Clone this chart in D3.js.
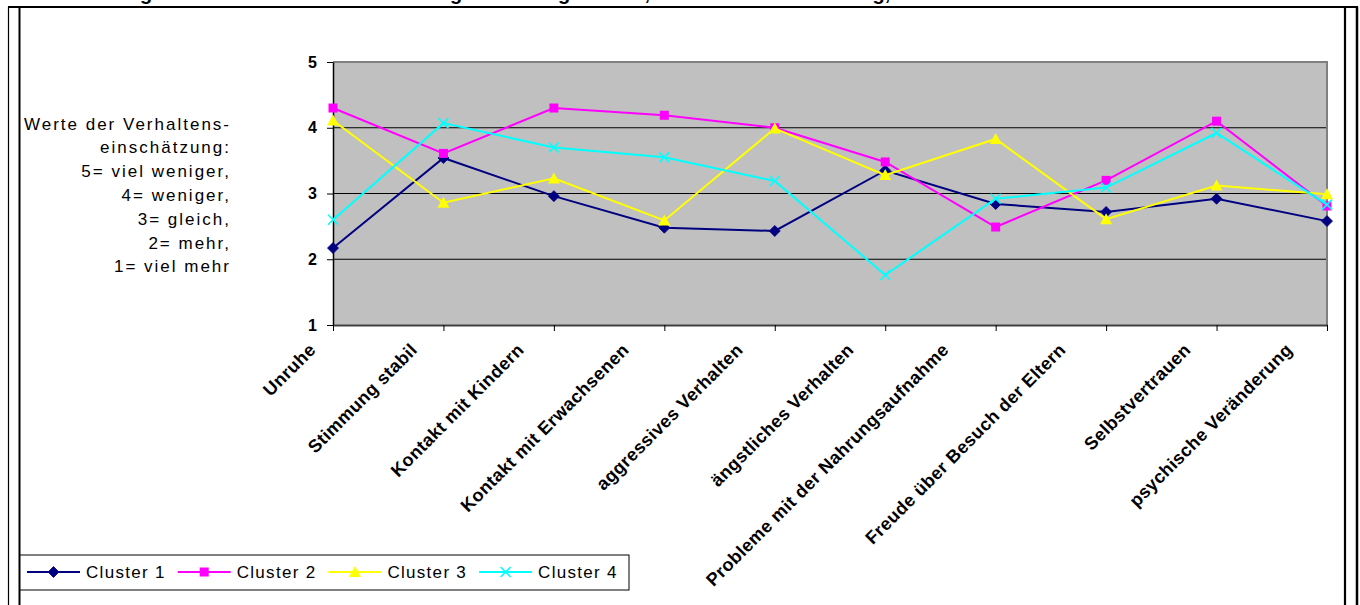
<!DOCTYPE html>
<html><head><meta charset="utf-8">
<script src="https://cdn.jsdelivr.net/npm/d3@7"></script>
<style>
html,body{margin:0;padding:0;background:#fff;}
svg{display:block;font-family:Arial,"Liberation Sans",sans-serif;}
</style></head>
<body>
<svg id="chart" width="1360" height="605"></svg>
<script>
const titleText = "Veränderung im Verhalten nach der Trennung/Scheidung: Kinder, Verhaltenseinschätzung, Mittelwerte";
const categories = ["Unruhe","Stimmung stabil","Kontakt mit Kindern","Kontakt mit Erwachsenen","aggressives Verhalten","ängstliches Verhalten","Probleme mit der Nahrungsaufnahme","Freude über Besuch der Eltern","Selbstvertrauen","psychische Veränderung"];
const seriesNames = ["Cluster 1","Cluster 2","Cluster 3","Cluster 4"];
const cluster1 = [2.17,3.54,2.96,2.48,2.43,3.35,2.84,2.72,2.92,2.58];
const cluster2 = [4.30,3.61,4.30,4.19,4.00,3.48,2.49,3.20,4.10,2.81];
const cluster3 = [4.11,2.86,3.23,2.59,3.99,3.28,3.83,2.61,3.12,2.99];
const cluster4 = [2.60,4.07,3.70,3.55,3.19,1.76,2.92,3.09,3.92,2.83];
const yTicks = [1,2,3,4,5];
const yNoteLines = ["Werte der Verhaltens-","einschätzung:","5= viel weniger,","4= weniger,","3= gleich,","2= mehr,","1= viel mehr"];

const seriesValues = [cluster1, cluster2, cluster3, cluster4];
const colors = ["#000080","#FF00FF","#FFFF00","#00FFFF"];
const markerTypes = ["diamond","square","triangle","x"];

const svg = d3.select("#chart");

// title (clipped at top, as in the reference)
svg.append("text").attr("x", 30).attr("y", 0)
  .attr("font-size", 20).attr("font-weight", "bold").attr("fill", "#000")
  .text(titleText);

// frames
const frame = svg.append("g").attr("fill","none").attr("stroke","#000");
frame.append("line").attr("x1",8).attr("x2",1358).attr("y1",7).attr("y2",7).attr("stroke-width",2);
frame.append("line").attr("x1",8.5).attr("x2",8.5).attr("y1",7).attr("y2",605).attr("stroke-width",1.2);
frame.append("line").attr("x1",19.5).attr("x2",19.5).attr("y1",7).attr("y2",605).attr("stroke-width",2);
frame.append("line").attr("x1",1345).attr("x2",1345).attr("y1",7).attr("y2",605).attr("stroke-width",2.2);
frame.append("line").attr("x1",1357).attr("x2",1357).attr("y1",7).attr("y2",605).attr("stroke-width",2.5);

const x = d3.scalePoint().domain(categories).range([333,1327]);
const y = d3.scaleLinear().domain([1,5]).range([325,62]);

// plot area
svg.append("rect").attr("x",333).attr("y",62).attr("width",1327-333).attr("height",325-62).attr("fill","#C0C0C0");
// gridlines
svg.append("g").selectAll("line").data(yTicks.filter(d=>d>1 && d<5)).join("line")
  .attr("x1",333).attr("x2",1327).attr("y1",d=>y(d)).attr("y2",d=>y(d))
  .attr("stroke","#000").attr("stroke-width",1.2);
// top & right border
svg.append("line").attr("x1",333).attr("x2",1328).attr("y1",62).attr("y2",62).attr("stroke","#808080").attr("stroke-width",2);
svg.append("line").attr("x1",1327).attr("x2",1327).attr("y1",62).attr("y2",325).attr("stroke","#808080").attr("stroke-width",2);

// y axis
const yAxis = svg.append("g").attr("transform","translate(333,0)")
  .call(d3.axisLeft(y).tickValues(yTicks).tickSize(6).tickSizeOuter(0).tickPadding(10).tickFormat(d3.format("d")));
yAxis.select(".domain").attr("stroke","#000").attr("stroke-width",1.5);
yAxis.selectAll(".tick line").attr("stroke","#000");
yAxis.selectAll(".tick text").attr("font-size",16).attr("font-weight","bold").attr("fill","#000")
  .attr("font-family","Arial,'Liberation Sans',sans-serif");

// x axis
const xAxis = svg.append("g").attr("transform","translate(0,325)")
  .call(d3.axisBottom(x).tickSize(6).tickSizeOuter(0).tickFormat(""));
xAxis.select(".domain").attr("stroke","#404040").attr("stroke-width",2.2);
xAxis.selectAll(".tick line").attr("stroke","#000");

svg.append("g").selectAll("text").data(categories).join("text")
  .attr("text-anchor","end")
  .attr("font-size",18).attr("font-weight","bold").attr("letter-spacing",0.4).attr("fill","#000")
  .text(d=>d)
  .attr("transform", function(d){
    const L = this.getComputedTextLength();
    return `translate(${x(d) - 9 - 0.11*L},351) rotate(-45)`;
  });

// y note
svg.append("g").selectAll("text").data(yNoteLines).join("text")
  .attr("x",231).attr("y",(d,i)=>129.5 + i*23.8)
  .attr("text-anchor","end").attr("font-size",17).attr("letter-spacing",2).attr("fill","#000")
  .text(d=>d);

// markers
function drawMarker(g, type, color, cx, cy){
  if(type==="diamond"){
    g.append("path").attr("d",`M${cx},${cy-5.5}L${cx+5.5},${cy}L${cx},${cy+5.5}L${cx-5.5},${cy}Z`).attr("fill",color).attr("stroke",color).attr("stroke-width",0.8);
  } else if(type==="square"){
    g.append("rect").attr("x",cx-4.5).attr("y",cy-4.5).attr("width",9).attr("height",9).attr("fill",color);
  } else if(type==="triangle"){
    g.append("path").attr("d",`M${cx},${cy-6}L${cx+6},${cy+5}L${cx-6},${cy+5}Z`).attr("fill",color);
  } else {
    g.append("path").attr("d",`M${cx-5},${cy-5}L${cx+5},${cy+5}M${cx+5},${cy-5}L${cx-5},${cy+5}`).attr("stroke",color).attr("stroke-width",1.6).attr("fill","none");
  }
}

const line = d3.line().x((d,i)=>x(categories[i])).y(d=>y(d));
seriesValues.forEach((vals, si) => {
  const g = svg.append("g");
  g.append("path").datum(vals).attr("d", line).attr("fill","none")
    .attr("stroke", colors[si]).attr("stroke-width", 2);
  vals.forEach((v,i) => drawMarker(g, markerTypes[si], colors[si], x(categories[i]), y(v)));
});

// legend
const leg = svg.append("g");
leg.append("rect").attr("x",20).attr("y",555).attr("width",609).attr("height",35).attr("fill","#fff").attr("stroke","#000").attr("stroke-width",1);
seriesNames.forEach((name, i) => {
  const lx = 27 + i*150.7, ly = 572;
  leg.append("line").attr("x1",lx).attr("x2",lx+53).attr("y1",ly).attr("y2",ly).attr("stroke",colors[i]).attr("stroke-width",2);
  drawMarker(leg, markerTypes[i], colors[i], lx+26.5, ly);
  leg.append("text").attr("x",lx+59).attr("y",ly+6).attr("font-size",17).attr("letter-spacing",1.3).attr("fill","#000").text(name);
});
</script>
</body></html>
